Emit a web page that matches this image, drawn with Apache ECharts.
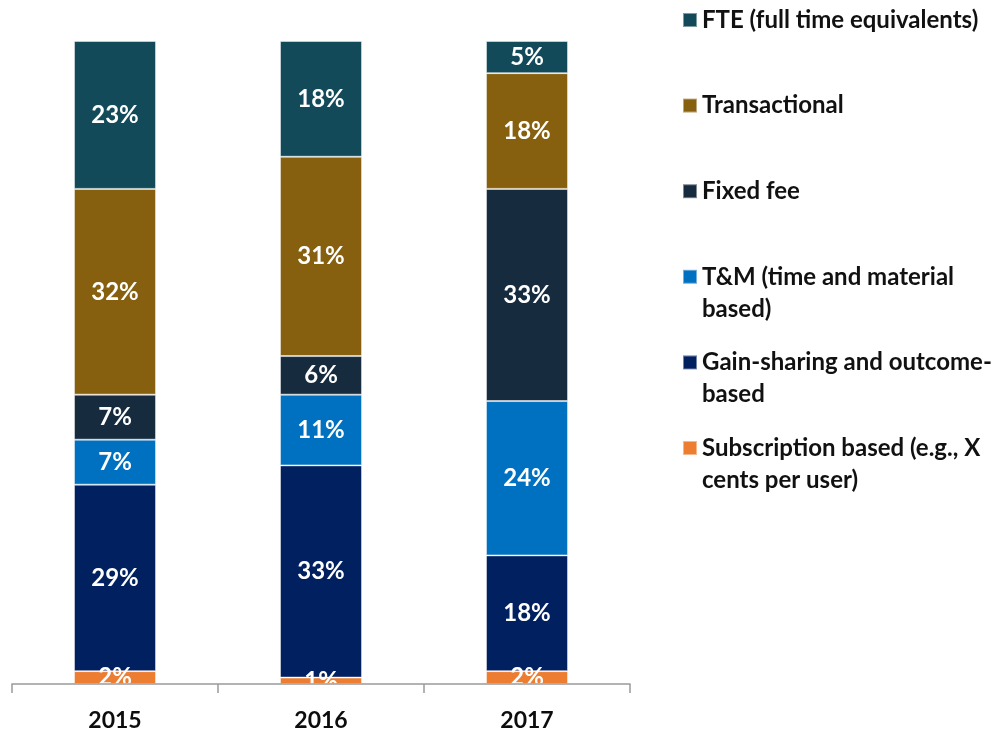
<!DOCTYPE html>
<html>
<head>
<meta charset="utf-8">
<script src="https://cdn.jsdelivr.net/npm/echarts@6/dist/echarts.min.js"></script>
<style>
html, body { margin: 0; padding: 0; background: #ffffff; }
#chart { width: 998px; height: 732px; }
</style>
</head>
<body>
<div id="chart"></div>
<script>
// categories
var years = ['2015', '2016', '2017'];

// series (bottom of stack first)
var subscription = [2, 1, 2];
var gainSharing = [29, 33, 18];
var timeMaterial = [7, 11, 24];
var fixedFee = [7, 6, 33];
var transactional = [32, 31, 18];
var fte = [23, 18, 5];

var seriesNames = [
	'Subscription based (e.g., X cents per user)',
	'Gain-sharing and outcome-based',
	'T&M (time and material based)',
	'Fixed fee',
	'Transactional',
	'FTE (full time equivalents)'
];
// legend text as it wraps in the picture
var legendText = {
	'FTE (full time equivalents)': ['FTE (full time equivalents)'],
	'Transactional': ['Transactional'],
	'Fixed fee': ['Fixed fee'],
	'T&M (time and material based)': ['T&M (time and material', 'based)'],
	'Gain-sharing and outcome-based': ['Gain-sharing and outcome-', 'based'],
	'Subscription based (e.g., X cents per user)': ['Subscription based (e.g., X', 'cents per user)']
};
var colors = ['#ED7D31', '#002060', '#0070C0', '#172B3F', '#86600F', '#124A5A'];
var values = [subscription, gainSharing, timeMaterial, fixedFee, transactional, fte];

var myChart = echarts.init(document.getElementById('chart'));

var LH = 32;
// legend runs top to bottom: FTE first
var legends = [];
for (var k = 0; k < seriesNames.length; k++) {
	var name = seriesNames[seriesNames.length - 1 - k];
	var lines = legendText[name];
	var cy = 15 + k * 85.6;
	legends.push({
		data: [name],
		orient: 'vertical',
		left: 677,
		top: lines.length > 1 ? cy - LH * 1.5 : cy - LH / 2,
		icon: 'rect',
		itemWidth: 14,
		itemHeight: 14,
		selectedMode: false,
		formatter: function (n) {
			var l = legendText[n];
			// blank line on top keeps the square level with the first line
			return l.length > 1 ? '\n' + l.join('\n') : l[0];
		},
		textStyle: {
			fontFamily: 'Lato',
			fontWeight: 'bold',
			fontSize: 24,
			lineHeight: LH,
			color: '#111111'
		}
	});
}

var series = seriesNames.map(function (n, i) {
	return {
		name: n,
		type: 'bar',
		stack: 'total',
		barWidth: 82,
		data: values[i],
		itemStyle: {
			color: colors[i],
			borderColor: 'rgba(255,255,255,0.45)',
			borderWidth: 1
		},
		label: {
			show: true,
			position: 'inside',
			formatter: '{c}%',
			color: '#ffffff',
			fontFamily: 'Lato',
			fontWeight: 'bold',
			fontSize: 24
		}
	};
});

var option = {
	animation: false,
	color: colors,
	legend: legends,
	grid: {
		left: 12,
		right: 368,
		top: 41,
		bottom: 46
	},
	xAxis: {
		type: 'category',
		data: years,
		boundaryGap: true,
		axisLine: { lineStyle: { color: '#9a9a9a', width: 1.5 } },
		axisTick: { show: true, length: 9, lineStyle: { color: '#9a9a9a', width: 1.5 } },
		axisLabel: {
			margin: 25,
			color: '#0d0d0d',
			fontFamily: 'Lato',
			fontWeight: 'bold',
			fontSize: 23
		},
		z: 10
	},
	yAxis: {
		type: 'value',
		min: 0,
		max: 100,
		show: false
	},
	series: series
};

myChart.setOption(option);
</script>
</body>
</html>
